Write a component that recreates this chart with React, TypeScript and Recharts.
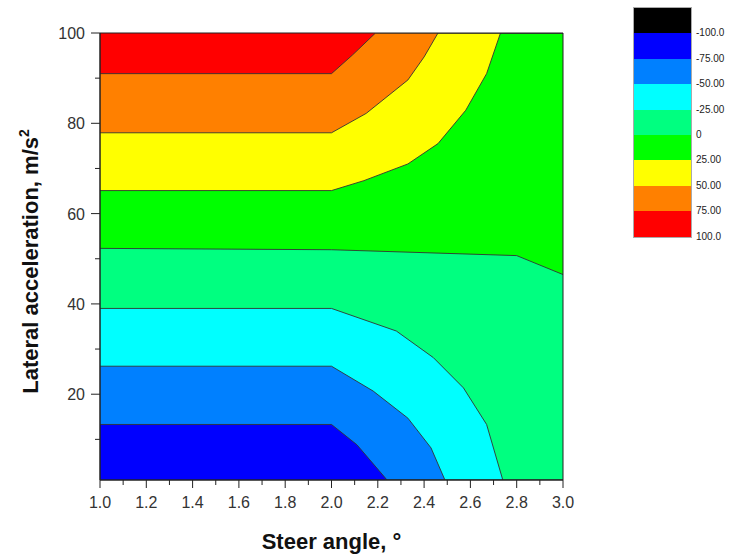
import React from 'react';
import { ComposedChart, Area, XAxis, YAxis, ReferenceArea } from 'recharts';

const FONT = '"Liberation Sans", Arial, sans-serif';

// contour boundaries: [steer angle, lateral acceleration]
const floorLine = [[1.0, 1], [3.0, 1]];
const blueEdge = [[1.0, 13.3], [2.0, 13.3], [2.11, 8.8], [2.24, 1], [3.0, 1]];
const cyanEdge = [[1.0, 26.2], [2.0, 26.2], [2.18, 20.7], [2.33, 14.7], [2.43, 8.1], [2.49, 1], [3.0, 1]];
const mintEdge = [[1.0, 39.0], [2.0, 39.0], [2.28, 34.0], [2.44, 28.1], [2.57, 21.4], [2.67, 13.3], [2.74, 1], [3.0, 1]];
const greenEdge = [[1.0, 52.3], [2.0, 52.0], [2.8, 50.7], [3.0, 46.5]];
const yellowEdge = [[1.0, 65.1], [2.0, 65.1], [2.14, 67.3], [2.33, 71.0], [2.46, 75.5], [2.58, 82.9], [2.67, 91.0], [2.73, 100], [3.0, 100]];
const orangeEdge = [[1.0, 77.9], [2.0, 77.9], [2.15, 82.2], [2.33, 89.6], [2.4, 94.7], [2.46, 100], [3.0, 100]];
const redEdge = [[1.0, 91.0], [2.0, 91.0], [2.09, 95.1], [2.19, 100], [3.0, 100]];

const xMajor = [1.0, 1.2, 1.4, 1.6, 1.8, 2.0, 2.2, 2.4, 2.6, 2.8, 3.0];
const xMinor = [1.1, 1.3, 1.5, 1.7, 1.9, 2.1, 2.3, 2.5, 2.7, 2.9];
const yMajor = [20, 40, 60, 80, 100];
const yMinor = [10, 30, 50, 70, 90];

const legendColors = ['#000000', '#0000FF', '#0080FF', '#00FFFF', '#00FF80', '#00FF00', '#FFFF00', '#FF8000', '#FF0000'];
const legendLabels = ['-100.0', '-75.00', '-50.00', '-25.00', '0', '25.00', '50.00', '75.00', '100.0'];

// painted bottom-up, each band fills from its lower edge to the top
const bands = [
  { key: 'floor', color: '#0000FF', pts: floorLine },
  { key: 'blue', color: '#0080FF', pts: blueEdge },
  { key: 'cyan', color: '#00FFFF', pts: cyanEdge },
  { key: 'mint', color: '#00FF80', pts: mintEdge },
  { key: 'green', color: '#00FF00', pts: greenEdge },
  { key: 'yellow', color: '#FFFF00', pts: yellowEdge },
  { key: 'orange', color: '#FF8000', pts: orangeEdge },
  { key: 'red', color: '#FF0000', pts: redEdge },
];

const xs = Array.from(new Set(bands.flatMap(b => b.pts.map(p => p[0])))).sort((a, b) => a - b);
const table = xs.map(x => {
  const row: Record<string, number | null> = { x };
  bands.forEach(b => {
    const p = b.pts.find(q => q[0] === x);
    row[b.key] = p ? p[1] : null;
  });
  return row;
});

const isIn = (list: number[], v: number) => list.some(m => Math.abs(m - v) < 1e-6);

const XTick = (props: any) => {
  const { x, y, payload } = props;
  const major = isIn(xMajor, payload.value);
  return (
    <g>
      <line x1={x} x2={x} y1={y} y2={y + (major ? 8 : 5)} stroke="#222" strokeWidth={1} />
      {major && (
        <text x={x} y={y + 28} textAnchor="middle" fontSize={16} fill="#333" fontFamily={FONT}>
          {payload.value.toFixed(1)}
        </text>
      )}
    </g>
  );
};

const YTick = (props: any) => {
  const { x, y, payload } = props;
  const major = isIn(yMajor, payload.value);
  return (
    <g>
      <line x1={x} x2={x - (major ? 9 : 5)} y1={y} y2={y} stroke="#222" strokeWidth={1} />
      {major && (
        <text x={x - 15} y={y + 6} textAnchor="end" fontSize={16} fill="#333" fontFamily={FONT}>
          {payload.value}
        </text>
      )}
    </g>
  );
};

const XTitle = (props: any) => {
  const { x, y, width } = props.viewBox;
  return (
    <text x={x + width / 2} y={y + 69} textAnchor="middle" fontSize={22} fontWeight="bold" fill="#111" fontFamily={FONT}>
      Steer angle, °
    </text>
  );
};

const YTitle = (props: any) => {
  const { y, height } = props.viewBox;
  const cx = 38;
  const cy = y + height / 2 + 5;
  return (
    <text x={cx} y={cy} transform={`rotate(-90 ${cx} ${cy})`} textAnchor="middle" fontSize={22} fontWeight="bold" fill="#111" fontFamily={FONT}>
      Lateral acceleration, m/s
      <tspan dy={-9} fontSize={14}>2</tspan>
    </text>
  );
};

export default function App() {
  return (
    <div style={{ position: 'absolute', left: 0, top: 0, width: 731, height: 557, background: '#fff' }}>
      <ComposedChart width={731} height={557} data={table} margin={{ top: 33, right: 168, bottom: 0, left: 0 }}>
        <XAxis
          type="number"
          dataKey="x"
          domain={[1, 3]}
          allowDataOverflow
          ticks={[...xMajor, ...xMinor].sort((a, b) => a - b)}
          interval={0}
          tickSize={0}
          tickMargin={0}
          tickLine={false}
          axisLine={{ stroke: '#222' }}
          tick={XTick}
          height={77}
          label={{ content: XTitle }}
        />
        <YAxis
          type="number"
          domain={[1, 100]}
          allowDataOverflow
          ticks={[...yMinor, ...yMajor].sort((a, b) => a - b)}
          interval={0}
          tickSize={0}
          tickMargin={0}
          tickLine={false}
          axisLine={{ stroke: '#222' }}
          tick={YTick}
          width={100}
          label={{ content: YTitle }}
        />
        {bands.map(b => (
          <Area
            key={b.key}
            dataKey={b.key}
            type="linear"
            baseValue={100}
            fill={b.color}
            fillOpacity={1}
            stroke={b.key === 'floor' ? 'none' : '#333'}
            strokeWidth={0.9}
            connectNulls
            dot={false}
            activeDot={false}
            isAnimationActive={false}
          />
        ))}
        <ReferenceArea x1={1} x2={3} y1={1} y2={100} fill="none" stroke="#222" strokeWidth={1} />
      </ComposedChart>
      <div style={{ position: 'absolute', left: 634, top: 8, width: 57, outline: '1px solid #aaa' }}>
        {legendColors.map(c => (
          <div key={c} style={{ height: 25.4, background: c }} />
        ))}
      </div>
      {legendLabels.map((t, i) => (
        <div
          key={t}
          style={{
            position: 'absolute',
            left: 696,
            top: 8 + 25.4 * (i + 1) - 7,
            fontSize: 10,
            lineHeight: '14px',
            color: '#222',
            fontFamily: FONT,
          }}
        >
          {t}
        </div>
      ))}
    </div>
  );
}
